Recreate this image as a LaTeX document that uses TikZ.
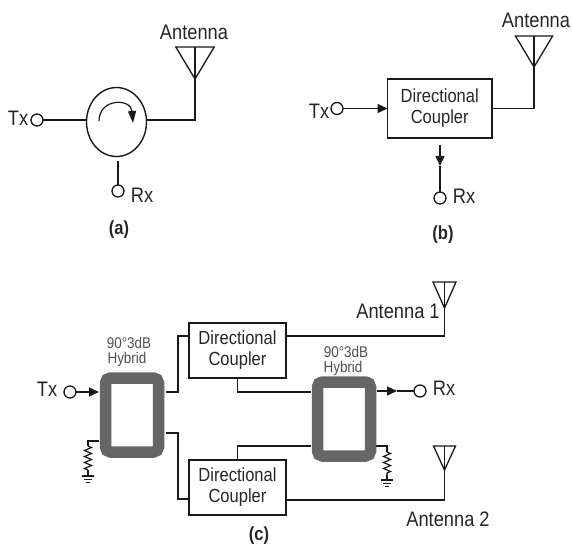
\documentclass[tikz,border=0pt]{standalone}
\usepackage{fontspec}
\setmainfont[FakeStretch=0.87]{Liberation Sans}
\usetikzlibrary{arrows.meta,decorations.pathmorphing,shapes.geometric}
\definecolor{hybgray}{HTML}{666666}
\definecolor{labgray}{HTML}{505050}
\tikzset{
  wire/.style={line width=1.4pt,draw=black!90},
  arr/.style={wire,-{Triangle[length=10pt,width=9pt]}},
  port/.style={circle,draw=black!90,line width=1.3pt,minimum size=12pt,inner sep=0pt,outer sep=0pt,fill=white},
  coupler/.style={rectangle,draw=black!90,line width=1.4pt,inner sep=0pt,outer sep=0pt,align=center,font=\fontsize{19pt}{21pt}\selectfont,text=black!85},
  hybrid/.style={rectangle,rounded corners=5pt,draw=hybgray,line width=11.5pt,minimum width=53pt,minimum height=74pt,inner sep=0pt,outer sep=0pt,fill=white},
  lab/.style={inner sep=0pt,font=\fontsize{21pt}{22pt}\selectfont,text=black!85},
  figcap/.style={inner sep=0pt,font=\fontsize{19pt}{20pt}\selectfont\bfseries,text=black!85},
  hlab/.style={inner sep=0pt,font=\fontsize{15.5pt}{16pt}\selectfont,text=labgray},
  res/.style={wire,line width=1.2pt,decorate,decoration={zigzag,segment length=6pt,amplitude=3.5pt}}
}
\newcommand{\antenna}[4]{% name, apex x, apex y, height
  \antennaw{#1}{#2}{#3}{#4}{#4*0.6}
}
\newcommand{\antennaw}[5]{% name, apex x, apex y, height, half width
  \coordinate (#1) at (#2,#3);
  \draw[wire,line width=1.3pt,line join=miter] (#1) -- ++(-#5,-#4) -- ++(2*#5,0) -- cycle;
  \draw[wire,line width=1.3pt] (#1) -- ++(0,-#4);
}
\newcommand{\earth}[3]{% name, x, y
  \coordinate (#1) at (#2,#3);
  \draw[wire,line width=1.3pt] (#2-6,#3) -- (#2+6,#3);
  \draw[wire,line width=1.2pt] (#2-4,#3+3.5) -- (#2+4,#3+3.5);
  \draw[wire,line width=1.1pt] (#2-2,#3+6.5) -- (#2+2,#3+6.5);
}
\begin{document}
\begin{tikzpicture}[x=1pt,y=-1pt]
\useasboundingbox (0,0) rectangle (572,548);
% ---------- (a)
\node[draw=black!90,line width=1.4pt,ellipse,minimum width=60pt,minimum height=69pt,inner sep=0pt,outer sep=0pt] (circ) at (116.5,122) {};
\coordinate (cs) at (118,161);
\node[port] (atx) at (37,120) {};
\node[port] (arx) at (118,191) {};
\node[lab,anchor=center] (atxl) at (18,118) {Tx};
\node[lab,anchor=center] (arxl) at (142,195) {Rx};
\node[lab] (aant) at (194,32) {Antenna};
\node[figcap] (acap) at (119,230) {(a)};
\antenna{aap}{195}{79}{32}
\draw[wire] (atx) -- (circ.west |- atx);
\draw[wire] (circ.east |- atx) -- (195,120) -- (aap);
\draw[wire] (cs) -- (arx);
\coordinate (arcs) at (99,121);
\coordinate (arce) at (133,123);
\draw[wire,line width=1.2pt,-{Triangle[length=12pt,width=8pt]}] (arcs) .. controls (99,98) and (131,98) .. (arce);
% ---------- (b)
\node[coupler,minimum width=104.5pt,minimum height=59pt] (bbox) at (439.75,108.5) {Directional\\Coupler};
\node[port] (btx) at (337,108.5) {};
\node[port] (brx) at (440,198) {};
\node[lab] (btxl) at (319,111) {Tx};
\node[lab] (brxl) at (464,196) {Rx};
\node[lab] (bant) at (536,20) {Antenna};
\node[figcap] (bcap) at (443,235) {(b)};
\antenna{bap}{534}{67}{31}
\draw[arr] (btx) -- (bbox.west);
\draw[wire] (bbox.east) -- (534,108.5) -- (bap);
\coordinate (bs) at (440,145);
\coordinate (bm) at (440,166);
\draw[arr] (bs) -- (bm);
\draw[wire] (bm) -- (brx);
% ---------- (c)
\node[hybrid] (h1) at (132,415) {};
\node[hybrid] (h2) at (344,419) {};
\node[coupler,minimum width=97pt,minimum height=55pt] (c1) at (237.5,350.5) {Directional\\Coupler};
\node[coupler,minimum width=97pt,minimum height=55pt] (c2) at (237.5,487.5) {Directional\\Coupler};
\node[hlab] (h1l1) at (129,342.5) {90°3dB};
\node[hlab] (h1l2) at (127,359.5) {Hybrid};
\node[hlab] (h2l1) at (346,351.5) {90°3dB};
\node[hlab] (h2l2) at (343,368.5) {Hybrid};
\node[port] (ctx) at (70,392) {};
\node[port] (crx) at (420,391) {};
\node[lab] (ctxl) at (47,389) {Tx};
\node[lab] (crxl) at (444,388) {Rx};
\node[lab] (ca1) at (398,311) {Antenna 1};
\node[lab] (ca2) at (448,519) {Antenna 2};
\node[figcap] (ccap) at (259,536) {(c)};
\antennaw{a1}{444.5}{308}{26}{11.5}
\antennaw{a2}{444.5}{470}{24}{11}
% hybrid 1 ports
\coordinate (h1in) at (99,392);
\coordinate (h1a) at (166,392);
\coordinate (h1b) at (166,433);
\coordinate (h1c) at (99,441);
% hybrid 2 ports
\coordinate (h2a) at (311,392);
\coordinate (h2b) at (311,446);
\coordinate (h2out) at (377,391);
\coordinate (h2d) at (376,446);
\coordinate (h2m) at (397,391);
\draw[arr] (ctx) -- (h1in);
\draw[wire] (h1a) -- (178,392) |- (c1.west |- 0,336);
\draw[wire] (h1b) -- (178,433) |- (c2.west |- 0,499);
\draw[wire] (c1.south) |- (h2a);
\draw[wire] (c2.north) |- (h2b);
\draw[wire] (c1.east |- 0,336) -| (a1);
\draw[wire] (c2.east |- 0,500) -| (a2);
\draw[arr] (h2out) -- (h2m);
\draw[wire] (h2m) -- (crx);
% terminations
\earth{g1}{88}{476}
\earth{g2}{387}{480}
\coordinate (r1t) at (88,446);
\coordinate (r2t) at (387,452);
\draw[wire,line width=1.2pt] (h1c) -- (88,441) -- (r1t);
\draw[res] (r1t) -- (88,470);
\draw[wire,line width=1.2pt] (88,470) -- (g1);
\draw[wire,line width=1.2pt] (h2d) -- (387,446) -- (r2t);
\draw[res] (r2t) -- (387,475);
\draw[wire,line width=1.2pt] (387,475) -- (g2);
\end{tikzpicture}
\end{document}
